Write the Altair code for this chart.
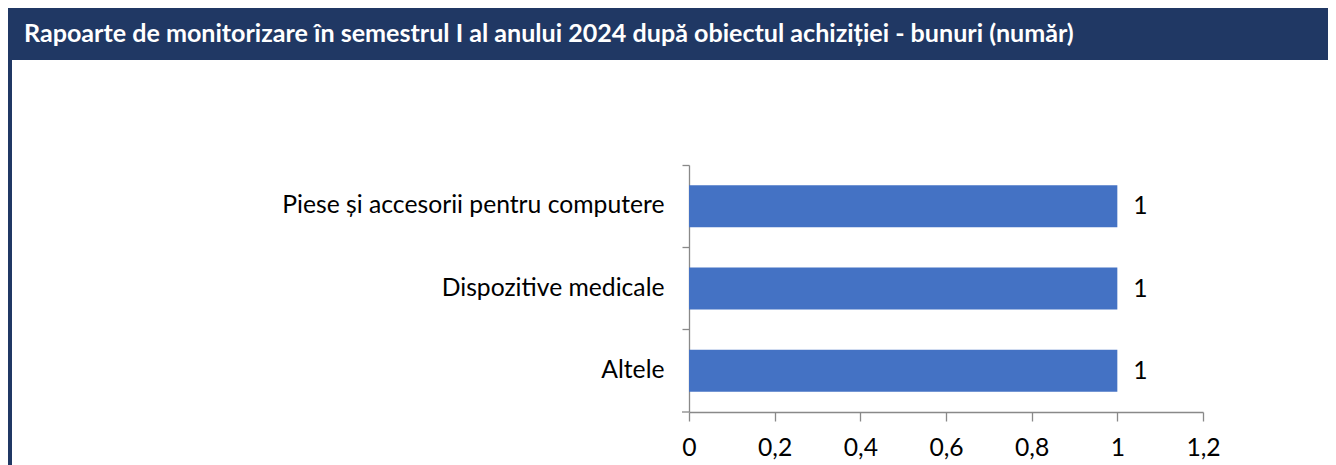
import altair as alt
import pandas as pd

title_text = "Rapoarte de monitorizare în semestrul I al anului 2024 după obiectul achiziției - bunuri (număr)"
categories = ["Piese și accesorii pentru computere", "Dispozitive medicale", "Altele\u00a0"]
values = [1, 1, 1]
x_ticks = [0, 0.2, 0.4, 0.6, 0.8, 1.0, 1.2]

W, H = 514, 247
PAD_L, PAD_T = 681, 157
TOTAL_W, TOTAL_H = 1320, 457
PAD_R, PAD_B = TOTAL_W - PAD_L - W, TOTAL_H - PAD_T - H

NAVY = "#203864"
GRAY = "#898989"
FONT = "Lato"
FS = 24.7

df = pd.DataFrame({"cat": categories, "val": values})

y_enc = alt.Y(
    "cat:N", sort=categories, title=None,
    scale=alt.Scale(paddingInner=0, paddingOuter=0),
    axis=alt.Axis(bandPosition=0, tickSize=7, labelPadding=18, labelFontSize=FS,
                  labelFont=FONT, labelColor="black", domainColor=GRAY, tickColor=GRAY,
                  labelLimit=0, grid=False, domainWidth=1.3, tickWidth=1.3),
)
x_enc = alt.X(
    "val:Q", title=None, scale=alt.Scale(domain=[0, 1.2], nice=False, zero=True),
    axis=alt.Axis(values=x_ticks, tickSize=9, labelPadding=34, labelBaseline="alphabetic",
                  labelFlush=False, labelOverlap=False,
                  labelFontSize=FS, labelFont=FONT, labelColor="black",
                  domainColor=GRAY, tickColor=GRAY, grid=False, domainWidth=1.3, tickWidth=1.3,
                  labelExpr="replace(format(datum.value, '.1~f'), '.', ',')"),
)

bars = alt.Chart(df).mark_bar(color="#4472C4", size=42).encode(x=x_enc, y=y_enc)
labels = alt.Chart(df).mark_text(align="left", baseline="middle", dx=16, dy=1,
                                 fontSize=FS, font=FONT, color="black").encode(
    x=alt.X("val:Q"), y=alt.Y("cat:N", sort=categories), text=alt.Text("val:Q"))

deco = alt.Chart(alt.Data(values=[{"k": 1}]))
title_bar = deco.mark_rect(color=NAVY).encode(
    x=alt.value(-PAD_L), x2=alt.value(W + PAD_R), y=alt.value(-PAD_T), y2=alt.value(-PAD_T + 52))
left_border = deco.mark_rect(color=NAVY).encode(
    x=alt.value(-PAD_L), x2=alt.value(-PAD_L + 4), y=alt.value(-PAD_T + 52), y2=alt.value(H + PAD_B))
title = deco.mark_text(text=title_text, align="left", baseline="alphabetic", color="white",
                       font=FONT, fontWeight="bold", fontSize=25.1).encode(
    x=alt.value(24 - 8 - PAD_L), y=alt.value(42 - 8 - PAD_T))
ext = deco.mark_rule(color=GRAY, strokeWidth=1.3).encode(
    x=alt.value(-7), x2=alt.value(0), y=alt.value(H), y2=alt.value(H))

chart = alt.layer(title_bar, left_border, title, ext, bars, labels).properties(
    width=W, height=H,
    autosize=alt.AutoSizeParams(type="none"),
    padding={"left": PAD_L, "top": PAD_T, "right": PAD_R, "bottom": PAD_B},
    background="white",
).configure_view(stroke="transparent")

chart.save("out.html", embed_options={"renderer": "svg", "actions": False})
